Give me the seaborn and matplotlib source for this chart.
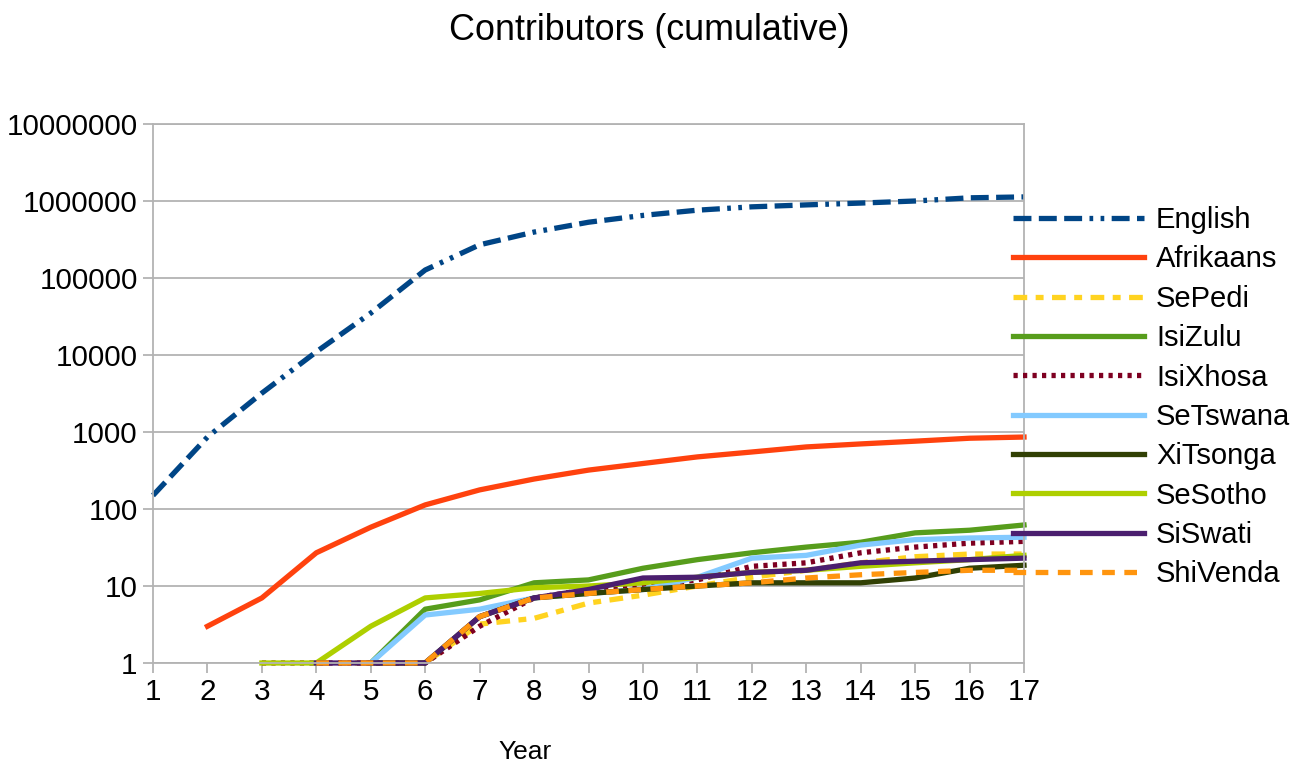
import numpy as np
import pandas as pd
import seaborn as sns
import matplotlib
matplotlib.use("Agg")
import matplotlib.pyplot as plt
from matplotlib.ticker import FixedLocator, FuncFormatter, NullLocator

# Dữ liệu - None = chưa có số liệu
years = list(range(1, 18))
english = [150, 860, 3200, 11000, 35000, 127000, 270000, 395000, 530000, 650000,
           760000, 840000, 890000, 940000, 1000000, 1100000, 1130000]
afrikaans = [None, 3, 7, 27, 58, 113, 177, 245, 320, 390, 475, 550, 640, 700, 760, 830, 860]
sepedi = [None, None, None, 1, 1, 1, 3.2, 3.8, 6, 7.6, 10, 13, 16, 20, 24, 26, 26]
isizulu = [None, None, None, None, 1, 5, 6.6, 11, 12, 17, 22, 27, 32, 37, 49, 53, 62]
isixhosa = [None, None, 1, 1, 1, 1, 3, 7, 9, 10, 12, 18, 20, 27, 32, 36, 38]
setswana = [None, None, None, None, 1, 4.2, 5, 7, 8, 9, 13, 23, 25, 34, 40, 42, 43]
xitsonga = [None, None, None, None, 1, 1, 4, 7, 8, 9, 10, 11, 11, 11, 12.7, 17, 18.6]
sesotho = [None, None, 1, 1, 3, 7, 8, 9.5, 10, 11, 13, 15, 16, 18, 20, 22, 25]
siswati = [None, None, None, 1, 1, 1, 4, 7, 9, 12.7, 13, 15, 16, 20, 21, 22, 23]
shivenda = [None, None, None, 1, 1, 1, 4, 7, 8, 9, 10, 11, 12.7, 14, 15, 16, 16]

languages = ["English", "Afrikaans", "SePedi", "IsiZulu", "IsiXhosa",
             "SeTswana", "XiTsonga", "SeSotho", "SiSwati", "ShiVenda"]
series = [english, afrikaans, sepedi, isizulu, isixhosa,
          setswana, xitsonga, sesotho, siswati, shivenda]
colors = ["#004586", "#ff420e", "#ffd320", "#579d1c", "#7e0021",
          "#83caff", "#314004", "#aecf00", "#4b1f6f", "#ff950e"]
dash_styles = [(3.4, 1.4, 3.4, 1.4, 3.4, 1.4, 0.7, 1.4, 0.7, 1.4),
               "", (2.6, 1.6, 1.5, 1.6), "", (0.8, 1.0),
               "", "", "", "", (2.4, 1.8)]

# Dạng dữ liệu dài cho seaborn
rows = []
for lang, vals in zip(languages, series):
    for yr, v in zip(years, vals):
        if v is not None:
            rows.append({"Year": yr, "Contributors": v, "Language": lang})
df = pd.DataFrame(rows)

plt.rcParams["font.family"] = ["Liberation Sans", "DejaVu Sans"]
fig = plt.figure(figsize=(12.99, 7.63), dpi=100)
ax = fig.add_axes([153 / 1299, 1 - 663 / 763, (1024 - 153) / 1299, (663 - 124) / 763])

sns.lineplot(
    data=df, x="Year", y="Contributors", hue="Language", style="Language",
    hue_order=languages, style_order=languages,
    palette=dict(zip(languages, colors)), dashes=dict(zip(languages, dash_styles)),
    estimator=None, errorbar=None, linewidth=3.8, legend=False, ax=ax,
)
for ln in ax.get_lines():
    ln.set_clip_on(False)
    ln.set_dash_capstyle("butt")

ax.set_yscale("log")
ax.set_ylim(1, 1e7)
ax.set_xlim(1, 17)
ax.yaxis.set_major_locator(FixedLocator([10 ** k for k in range(8)]))
ax.yaxis.set_minor_locator(NullLocator())
ax.yaxis.set_major_formatter(FuncFormatter(lambda v, p: f"{int(round(v))}"))
ax.set_xticks(years)
ax.set_xticklabels([str(y) for y in years])

grid_c = "#b3b3b3"
ax.grid(axis="y", color=grid_c, linewidth=1.3)
ax.grid(axis="x", visible=False)
ax.set_axisbelow(True)
for s in ax.spines.values():
    s.set_color(grid_c)
    s.set_linewidth(1.3)
ax.tick_params(axis="both", colors=grid_c, length=7, width=1.3, labelsize=21.3,
               labelcolor="black", pad=4)
ax.set_ylabel("")
ax.set_xlabel("Year", fontsize=19)
ax.xaxis.set_label_coords((525 - 153) / 871, -0.143)

fig.text(0.5, 1 - 31 / 763, "Contributors (cumulative)", ha="center", va="center", fontsize=25.8)

leg = fig.legend(
    handles=ax.get_lines()[:len(languages)], labels=languages,
    loc="upper left", bbox_to_anchor=(1013 / 1299, 1 - 206 / 763),
    frameon=False, fontsize=21, handlelength=4.5, handletextpad=0.4,
    labelspacing=0.39, borderpad=0, borderaxespad=0,
)

fig.savefig("out.png", dpi=100)
